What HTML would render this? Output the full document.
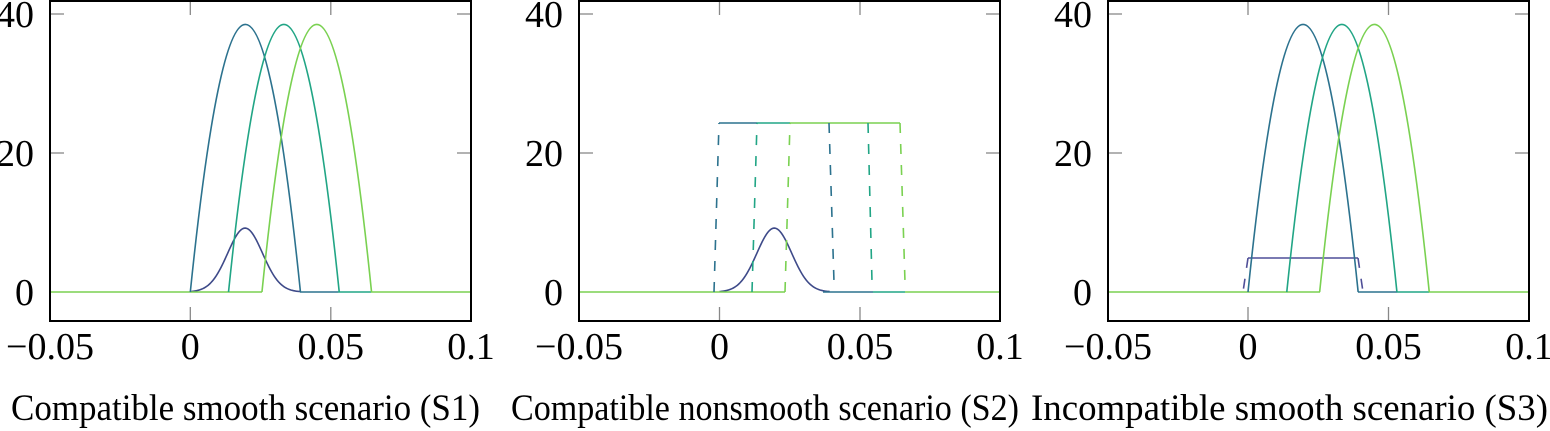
<!DOCTYPE html>
<html><head><meta charset="utf-8"><style>
html,body{margin:0;padding:0;background:#fff;}
svg{display:block;}
text{font-family:"Liberation Serif",serif;fill:#000;}
</style></head><body>
<svg id="s" width="1550" height="431" viewBox="0 0 1550 431" xmlns="http://www.w3.org/2000/svg">
<g id="g"></g>
<text x="11" y="420" font-size="37" textLength="469" lengthAdjust="spacingAndGlyphs">Compatible smooth scenario (S1)</text>
<text x="511" y="420" font-size="37" textLength="508" lengthAdjust="spacingAndGlyphs">Compatible nonsmooth scenario (S2)</text>
<text x="1031" y="420" font-size="37" textLength="517" lengthAdjust="spacingAndGlyphs">Incompatible smooth scenario (S3)</text>
</svg>
<script>
var g=document.getElementById('g');var NS='http://www.w3.org/2000/svg';
function el(t,a,txt){var e=document.createElementNS(NS,t);for(var k in a)e.setAttribute(k,a[k]);if(txt)e.textContent=txt;g.appendChild(e);return e;}
var CA='#2c728e',CB='#21a585',CC='#7ad151',CG='#3e4a89',CF='#4f4f98';
var Y0=292,SY=6.95,SX=2810;
function panel(L,X0){
 var R=L+421;
 [X0,X0+140.5].forEach(function(x){el('line',{x1:x,y1:1,x2:x,y2:15,stroke:'#888','stroke-width':1.3});el('line',{x1:x,y1:321,x2:x,y2:307,stroke:'#888','stroke-width':1.3});});
 [14,153].forEach(function(y){el('line',{x1:L,y1:y,x2:L+14,y2:y,stroke:'#888','stroke-width':1.3});el('line',{x1:R,y1:y,x2:R-14,y2:y,stroke:'#888','stroke-width':1.3});});
 var lab=[['−0.05',L],['0',X0],['0.05',X0+140.5],['0.1',R]];
 lab.forEach(function(l){el('text',{x:l[1],y:359,'font-size':38,'text-anchor':'middle'},l[0]);});
 [['40',27],['20',166],['0',305]].forEach(function(l){el('text',{x:L-16,y:l[1],'font-size':38,'text-anchor':'end'},l[0]);});
}
function P(X0,v){return X0+v*SX;}
function para(X0,a,b,h,c){var x0=P(X0,a),x1=P(X0,b),yp=Y0-h*SY;var y=2*yp-Y0;
 el('path',{d:'M'+x0+' '+Y0+' Q'+((x0+x1)/2)+' '+y+' '+x1+' '+Y0,fill:'none',stroke:c,'stroke-width':1.6});}
function gauss(X0,a,b){var d='';for(var i=0;i<=80;i++){var v=a+(b-a)*i/80;var y=9.2*Math.exp(-Math.pow((v-0.0195)/0.0062,2)/2);d+=(i?'L':'M')+P(X0,v).toFixed(2)+' '+(Y0-y*SY).toFixed(2);}
 el('path',{d:d,fill:'none',stroke:CG,'stroke-width':1.6});}
function hl(x1,x2,c,y){el('line',{x1:x1,y1:y||Y0,x2:x2,y2:y||Y0,stroke:c,'stroke-width':1.6});}
function dl(x1,y1,x2,y2,c){el('line',{x1:x1,y1:y1,x2:x2,y2:y2,stroke:c,'stroke-width':1.6,'stroke-dasharray':'10 11'});}
var X=190.3;
gauss(X,0,0.0392);
hl(300,338,CA);hl(338,371,CB);
hl(50,262,CC);hl(371,471,CC);
para(X,0,0.0392,38.5,CA);para(X,0.0136,0.053,38.5,CB);para(X,0.0255,0.0645,38.5,CC);
X=719.5;var yt=123;
gauss(X,0,0.0392);
hl(823,873,CA);hl(873,905,CB);hl(579,785,CC);hl(905,1000,CC);
hl(719,757,CA,yt);hl(757,790,CB,yt);hl(790,900,CC,yt);
dl(714,Y0,719,yt,CA);dl(752,Y0,757,yt,CB);dl(785,Y0,790,yt,CC);
dl(829,yt,834,282,CA);dl(868,yt,872,282,CB);dl(900,yt,905,282,CC);
X=1248;
hl(1358,1397,CA);hl(1397,1429,CB);hl(1108,1320,CC);hl(1429,1529,CC);
hl(1248,1358,CF,258);
dl(1248,258,1243,Y0,CF);dl(1358,258,1363,Y0,CF);
para(X,0,0.0392,38.5,CA);para(X,0.0138,0.053,38.5,CB);para(X,0.0255,0.0645,38.5,CC);
panel(50,190.3);panel(579,719.5);panel(1108,1248);
[50,579,1108].forEach(function(L){el('rect',{x:L,y:1,width:421,height:320,fill:'none',stroke:'#000','stroke-width':2});});
</script>
</body></html>
